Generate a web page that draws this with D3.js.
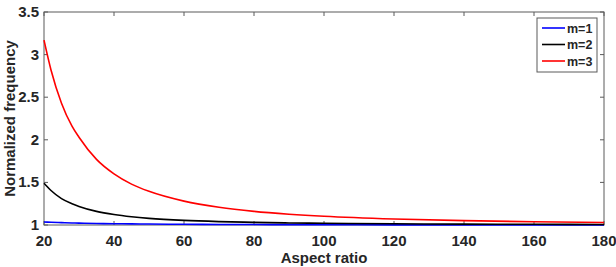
<!DOCTYPE html>
<html>
<head>
<meta charset="utf-8">
<script src="https://cdn.jsdelivr.net/npm/d3@7/dist/d3.min.js"></script>
<style>
  body { margin: 0; background: #fff; }
  text { font-family: "Liberation Sans", Arial, sans-serif; font-weight: bold; fill: #262626; }
</style>
</head>
<body>
<div id="chart"></div>
<script>
// aspect ratios sampled along the curves
var aspect = [20, 22, 25, 28, 30, 35, 40, 45, 50, 60, 70, 80, 90, 100, 120, 140, 160, 180];
// normalized frequency for each mode
var m1 = [1.035, 1.032, 1.028, 1.024, 1.022, 1.018, 1.015, 1.013, 1.011, 1.008, 1.006, 1.005, 1.004, 1.003, 1.002, 1.002, 1.001, 1.001];
var m2 = [1.49, 1.405, 1.31, 1.25, 1.218, 1.16, 1.123, 1.097, 1.078, 1.054, 1.04, 1.031, 1.024, 1.02, 1.014, 1.01, 1.008, 1.006];
var m3 = [3.17, 2.82, 2.43, 2.16, 2.03, 1.77, 1.6, 1.48, 1.395, 1.28, 1.208, 1.16, 1.127, 1.102, 1.07, 1.051, 1.038, 1.029];
var seriesNames = ['m=1', 'm=2', 'm=3'];
var seriesColors = ['#0000ff', '#000000', '#ff0000'];
var xTicks = [20, 40, 60, 80, 100, 120, 140, 160, 180];
var yTicks = [1, 1.5, 2, 2.5, 3, 3.5];

var width = 616, height = 267;
var margin = {left: 44, right: 12, top: 12, bottom: 42};

var svg = d3.select('#chart').append('svg')
   .attr('width', width)
   .attr('height', height);

var x = d3.scaleLinear().domain([20, 180]).range([margin.left, width - margin.right]);
var y = d3.scaleLinear().domain([1, 3.5]).range([height - margin.bottom, margin.top]);

var axisColor = '#5a5a5a';

//frame
svg.append('rect')
   .attr('x', x(20)).attr('y', y(3.5))
   .attr('width', x(180) - x(20)).attr('height', y(1) - y(3.5))
   .attr('fill', 'none').attr('stroke', axisColor).attr('stroke-width', 1);

//inward ticks on all four sides
var tickLen = 4;
svg.append('g').selectAll('line.xb').data(xTicks).enter().append('line')
   .attr('x1', function (d) { return x(d) }).attr('x2', function (d) { return x(d) })
   .attr('y1', y(1)).attr('y2', y(1) - tickLen)
   .attr('stroke', axisColor);
svg.append('g').selectAll('line.xt').data(xTicks).enter().append('line')
   .attr('x1', function (d) { return x(d) }).attr('x2', function (d) { return x(d) })
   .attr('y1', y(3.5)).attr('y2', y(3.5) + tickLen)
   .attr('stroke', axisColor);
svg.append('g').selectAll('line.yl').data(yTicks).enter().append('line')
   .attr('x1', x(20)).attr('x2', x(20) + tickLen)
   .attr('y1', function (d) { return y(d) }).attr('y2', function (d) { return y(d) })
   .attr('stroke', axisColor);
svg.append('g').selectAll('line.yr').data(yTicks).enter().append('line')
   .attr('x1', x(180)).attr('x2', x(180) - tickLen)
   .attr('y1', function (d) { return y(d) }).attr('y2', function (d) { return y(d) })
   .attr('stroke', axisColor);

//tick labels
svg.append('g').selectAll('text').data(xTicks).enter().append('text')
   .attr('x', function (d) { return x(d) })
   .attr('y', y(1) + 21)
   .attr('text-anchor', 'middle')
   .style('font-size', '15px')
   .text(function (d) { return d });
svg.append('g').selectAll('text').data(yTicks).enter().append('text')
   .attr('x', x(20) - 5)
   .attr('y', function (d) { return y(d) + 5 })
   .attr('text-anchor', 'end')
   .style('font-size', '15px')
   .text(function (d) { return d });

//axis titles
svg.append('text')
   .attr('x', (x(20) + x(180)) / 2).attr('y', 263)
   .attr('text-anchor', 'middle')
   .style('font-size', '15px')
   .text('Aspect ratio');
svg.append('text')
   .attr('transform', 'translate(15,' + ((y(1) + y(3.5)) / 2) + ') rotate(-90)')
   .attr('text-anchor', 'middle')
   .style('font-size', '15px')
   .text('Normalized frequency');

//curves
var line = d3.line()
   .x(function (d) { return x(d[0]) })
   .y(function (d) { return y(d[1]) })
   .curve(d3.curveMonotoneX);

[m1, m2, m3].forEach(function (vals, k) {
   svg.append('path')
      .datum(aspect.map(function (a, i) { return [a, vals[i]] }))
      .attr('d', line)
      .attr('fill', 'none')
      .attr('stroke', seriesColors[k])
      .attr('stroke-width', 1.6);
});

//legend
var lg = svg.append('g').attr('transform', 'translate(537,18)');
lg.append('rect')
   .attr('width', 60).attr('height', 54)
   .attr('fill', '#fff').attr('stroke', axisColor).attr('stroke-width', 1);
seriesNames.forEach(function (name, k) {
   var ly = 10 + k * 16.5;
   lg.append('line')
      .attr('x1', 5).attr('x2', 28)
      .attr('y1', ly).attr('y2', ly)
      .attr('stroke', seriesColors[k]).attr('stroke-width', 1.6);
   lg.append('text')
      .attr('x', 30).attr('y', ly + 4.5)
      .style('font-size', '12.5px')
      .text(name);
});
</script>
</body>
</html>
